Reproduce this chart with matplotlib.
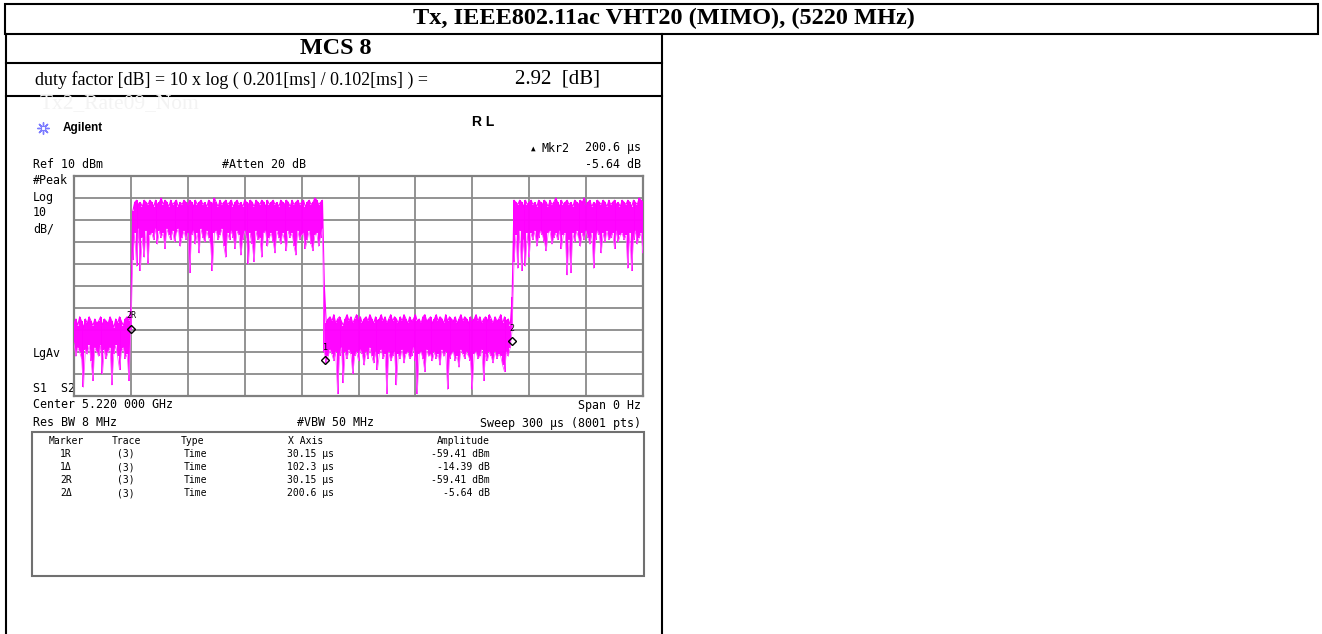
import numpy as np
import matplotlib
matplotlib.use("Agg")
import matplotlib.pyplot as plt
from matplotlib.patches import Rectangle

# ---- analyzer settings ----
SWEEP_US = 300
REF_DBM = 10
DB_PER_DIV = 10
N_DIV = 10

# ---- zero-span trace, peak-detected: upper / lower value per microsecond (dBm) ----
# 0 .. 30 us : transmitter off
hi_off_a = [-57, -55, -58, -54, -56, -59, -55, -57, -54, -56,
            -58, -55, -57, -56, -54, -58, -55, -56, -57, -54,
            -56, -59, -55, -57, -54, -56, -58, -55, -54, -56,
            -50]
lo_off_a = [-66, -72, -68, -70, -73, -86, -69, -71, -67, -74,
            -83, -68, -70, -72, -67, -80, -69, -73, -70, -68,
            -85, -71, -67, -72, -78, -70, -68, -73, -71, -83,
            -60]
# 31 .. 131 us : burst
hi_on_a = [-6, -2, -1, -3, -2, -4, -1, -2, -3, -1,
           -2, -4, -1, -3, -2, 0, -3, -1, -2, -4,
           -1, -3, -2, -1, -4, -2, -3, -1, -2, -3,
           -1, -2, -4, -1, -3, -2, -1, -3, -2, -4,
           -1, -2, -3, 0, -2, -4, -1, -3, -2, -1,
           -3, -2, -1, -4, -2, -1, -3, -2, -4, -1,
           -2, -3, -1, -2, -4, -1, -2, -3, -1, -2,
           -4, -1, -3, -2, -1, -3, -2, -4, -1, -2,
           -3, -1, -2, -4, -1, -3, -2, -1, -3, -2,
           -1, -4, -2, -1, -3, -2, 0, -1, -3, -2,
           -1]
lo_on_a = [-28, -16, -31, -14, -33, -18, -27, -15, -30, -17,
           -16, -19, -14, -21, -15, -18, -16, -23, -14, -17,
           -19, -15, -20, -16, -14, -22, -18, -15, -19, -16,
           -34, -17, -15, -21, -16, -25, -14, -18, -20, -15,
           -18, -21, -33, -16, -15, -19, -17, -14, -22, -27,
           -16, -19, -15, -18, -23, -15, -17, -26, -19, -15,
           -18, -30, -16, -21, -29, -15, -19, -18, -27, -16,
           -15, -22, -18, -16, -20, -25, -15, -18, -21, -16,
           -19, -24, -15, -18, -16, -22, -26, -15, -19, -17,
           -16, -23, -19, -15, -21, -24, -17, -16, -22, -18,
           -14]
# 132 .. 230 us : transmitter off
hi_off_b = [-40, -57, -55, -54, -56, -53, -57, -55, -54, -56,
            -58, -55, -53, -56, -54, -57, -55, -53, -56, -54,
            -57, -55, -54, -56, -53, -55, -57, -54, -56, -55,
            -53, -56, -54, -57, -55, -53, -56, -54, -55, -57,
            -54, -56, -53, -55, -57, -54, -56, -55, -53, -56,
            -55, -57, -54, -53, -56, -55, -54, -57, -55, -53,
            -56, -54, -55, -57, -53, -56, -54, -55, -56, -54,
            -57, -55, -53, -56, -54, -55, -57, -54, -56, -55,
            -53, -56, -54, -57, -55, -54, -56, -53, -55, -57,
            -54, -56, -55, -53, -57, -54, -56, -55, -58]
lo_off_b = [-70, -75, -72, -69, -71, -74, -70, -89, -72, -68,
            -84, -70, -73, -69, -71, -80, -72, -70, -74, -69,
            -71, -76, -70, -73, -68, -72, -75, -70, -78, -71,
            -69, -73, -71, -89, -70, -74, -72, -70, -85, -71,
            -73, -69, -75, -71, -70, -73, -72, -68, -74, -89,
            -71, -70, -73, -79, -69, -72, -71, -74, -70, -73,
            -71, -76, -69, -72, -70, -87, -73, -71, -70, -74,
            -72, -77, -69, -71, -73, -70, -72, -74, -87, -71,
            -70, -73, -72, -69, -83, -71, -74, -70, -72, -75,
            -70, -73, -71, -72, -76, -79, -70, -72, -68]
# 231 .. 300 us : next burst
hi_on_b = [-45, -1, -2, -3, -1, -2, -4, -1, -3, -2,
           -1, -3, -2, -4, -1, -2, -3, -1, -2, -4,
           -1, -3, -2, 0, -2, -4, -1, -3, -2, -1,
           -3, -2, -4, -1, -2, -3, -1, -2, 0, -3,
           -2, -1, -4, -2, -3, -1, -2, -3, -1, -2,
           -4, -1, -3, -2, -1, -3, -2, -4, -1, -2,
           -3, -1, -2, -4, -1, -2, -3, 0, -1, -2]
lo_on_b = [-60, -29, -17, -32, -15, -33, -19, -31, -16, -27,
           -16, -19, -15, -22, -18, -15, -17, -20, -24, -16,
           -15, -21, -18, -16, -19, -15, -23, -17, -16, -35,
           -19, -34, -16, -20, -15, -18, -22, -16, -19, -15,
           -18, -21, -16, -32, -19, -15, -17, -25, -16, -20,
           -15, -19, -18, -16, -23, -15, -20, -17, -16, -19,
           -17, -32, -16, -33, -19, -15, -21, -18, -16, -25]

# ---- marker table ----
marker_names = ["1R", "1\u0394", "2R", "2\u0394"]
marker_traces = ["(3)", "(3)", "(3)", "(3)"]
marker_types = ["Time", "Time", "Time", "Time"]
marker_x_us = [30.15, 102.3, 30.15, 200.6]
marker_amp = [-59.41, -14.39, -59.41, -5.64]
marker_units = ["dBm", "dB", "dBm", "dB"]

# ---- page text ----
title = "Tx, IEEE802.11ac VHT20 (MIMO), (5220 MHz)"
mode_label = "MCS 8"
duty_formula = "duty factor [dB] = 10 x log ( 0.201[ms] / 0.102[ms] ) ="
duty_value = "2.92  [dB]"
trace_name = "Tx2_Rate09_Nom"

W, H = 1322, 634
fig = plt.figure(figsize=(W / 100, H / 100), dpi=100)

# page layer in pixel coordinates
page = fig.add_axes([0, 0, 1, 1])
page.set_xlim(0, W)
page.set_ylim(H, 0)
page.axis("off")

SERIF = "Liberation Serif"
MONO = "DejaVu Sans Mono"
SANS = "Liberation Sans"
blw = 1.5

# table frame
page.add_patch(Rectangle((5, 4), 1313, 30, fill=False, ec="black", lw=blw))
page.plot([6, 6], [34, H], color="black", lw=blw)
page.plot([662, 662], [34, H], color="black", lw=blw)
page.plot([6, 662], [63, 63], color="black", lw=blw)
page.plot([6, 662], [96, 96], color="black", lw=blw)

page.text(664, 18, title, family=SERIF, weight="bold", fontsize=17.5,
          ha="center", va="center")
page.text(336, 48, mode_label, family=SERIF, weight="bold", fontsize=17.4,
          ha="center", va="center")
page.text(35, 80, duty_formula, family=SERIF, fontsize=12.9,
          ha="left", va="center")
page.text(515, 79, duty_value, family=SERIF, fontsize=15,
          ha="left", va="center")
page.text(40, 104, trace_name, family=SERIF, fontsize=15.4, color="#f3f3f3",
          ha="left", va="center")

# instrument header
page.scatter([43], [128], marker=(8, 2, 0), s=70, color="#7c7cff", lw=1)
page.scatter([43], [128], marker="s", s=8, facecolor="white",
             edgecolor="#7c7cff", lw=0.8)
page.text(63, 128, "Agilent", family=SANS, weight="bold", fontsize=8.5,
          ha="left", va="center")
page.text(472, 122, "R L", family=SANS, weight="bold", fontsize=10,
          ha="left", va="center")

mkr2_time = marker_x_us[3]
mkr2_amp = marker_amp[3]
page.text(531, 148, "\u25b2", family=MONO, fontsize=5.5, ha="left", va="center")
page.text(541, 148, "Mkr2", family=MONO, fontsize=8.4, ha="left", va="center")
page.text(641, 148, f"{mkr2_time:g} \u00b5s", family=MONO, fontsize=8.4,
          ha="right", va="center")

mono_kw = dict(family=MONO, fontsize=8.4, va="center")
page.text(33, 165, f"Ref {REF_DBM} dBm", ha="left", **mono_kw)
page.text(222, 165, "#Atten 20 dB", ha="left", **mono_kw)
page.text(641, 165, f"{mkr2_amp:.2f} dB", ha="right", **mono_kw)
for y, s in [(181, "#Peak"), (197, "Log"), (213, str(DB_PER_DIV)),
             (229, "dB/"), (354, "LgAv"), (388, "S1  S2")]:
    page.text(33, y, s, ha="left", **mono_kw)
page.text(33, 405, "Center 5.220 000 GHz", ha="left", **mono_kw)
page.text(641, 405, "Span 0 Hz", ha="right", **mono_kw)
page.text(33, 423, "Res BW 8 MHz", ha="left", **mono_kw)
page.text(297, 423, "#VBW 50 MHz", ha="left", **mono_kw)
page.text(641, 423, f"Sweep {SWEEP_US} \u00b5s (8001 pts)", ha="right", **mono_kw)

# marker table
page.add_patch(Rectangle((32, 432), 612, 144, fill=False, ec="#707070", lw=1.5))
tk = dict(family=MONO, fontsize=7, va="center_baseline")
page.text(66, 440, "Marker", ha="center", **tk)
page.text(126, 440, "Trace", ha="center", **tk)
page.text(181, 440, "Type", ha="left", **tk)
page.text(288, 440, "X Axis", ha="left", **tk)
page.text(490, 440, "Amplitude", ha="right", **tk)
for i in range(len(marker_names)):
    y = 453 + 13 * i
    page.text(66, y, marker_names[i], ha="center", **tk)
    page.text(126, y, marker_traces[i], ha="center", **tk)
    page.text(184, y, marker_types[i], ha="left", **tk)
    page.text(287, y, f"{marker_x_us[i]:g} \u00b5s", ha="left", **tk)
    page.text(490, y, f"{marker_amp[i]:.2f} {marker_units[i]}", ha="right", **tk)

# ---- zero-span display ----
x0, x1, y0, y1 = 74, 643, 176, 396
ax = fig.add_axes([x0 / W, 1 - y1 / H, (x1 - x0) / W, (y1 - y0) / H])
bottom = REF_DBM - N_DIV * DB_PER_DIV
ax.set_xlim(0, SWEEP_US)
ax.set_ylim(bottom, REF_DBM)
ax.set_xticks(np.linspace(0, SWEEP_US, N_DIV + 1))
ax.set_yticks(np.arange(bottom, REF_DBM + 1, DB_PER_DIV))
ax.tick_params(length=0, labelbottom=False, labelleft=False)
ax.grid(True, color="#8a8a8a", lw=1.3)
for sp in ax.spines.values():
    sp.set_color("#808080")
    sp.set_linewidth(1.6)

hi = np.array(hi_off_a + hi_on_a + hi_off_b + hi_on_b, dtype=float)
lo = np.array(lo_off_a + lo_on_a + lo_off_b + lo_on_b, dtype=float)
t = np.arange(len(hi)) * (SWEEP_US / (len(hi) - 1))
mag = "#ff00ff"
ax.vlines(t, lo, hi, colors=mag, lw=1.4, zorder=3)
ax.plot(t, hi, color=mag, lw=0.8, zorder=3)
ax.plot(t, lo, color="#ff55ff", lw=0.6, zorder=3)

# markers: reference plus deltas
ref_t, ref_a = marker_x_us[0], marker_amp[0]
mk = [("2R", ref_t, ref_a),
      ("1", ref_t + marker_x_us[1], ref_a + marker_amp[1]),
      ("2", ref_t + marker_x_us[3], ref_a + marker_amp[3])]
for lab, mt, ma in mk:
    ax.plot([mt], [ma], marker="D", ms=4.5, mfc="none", mec="black",
            mew=1.0, zorder=5)
    ax.annotate(lab, (mt, ma), xytext=(0, 6), textcoords="offset points",
                ha="center", va="bottom", family=MONO, fontsize=6, zorder=5)

fig.savefig("out.png", dpi=100)
